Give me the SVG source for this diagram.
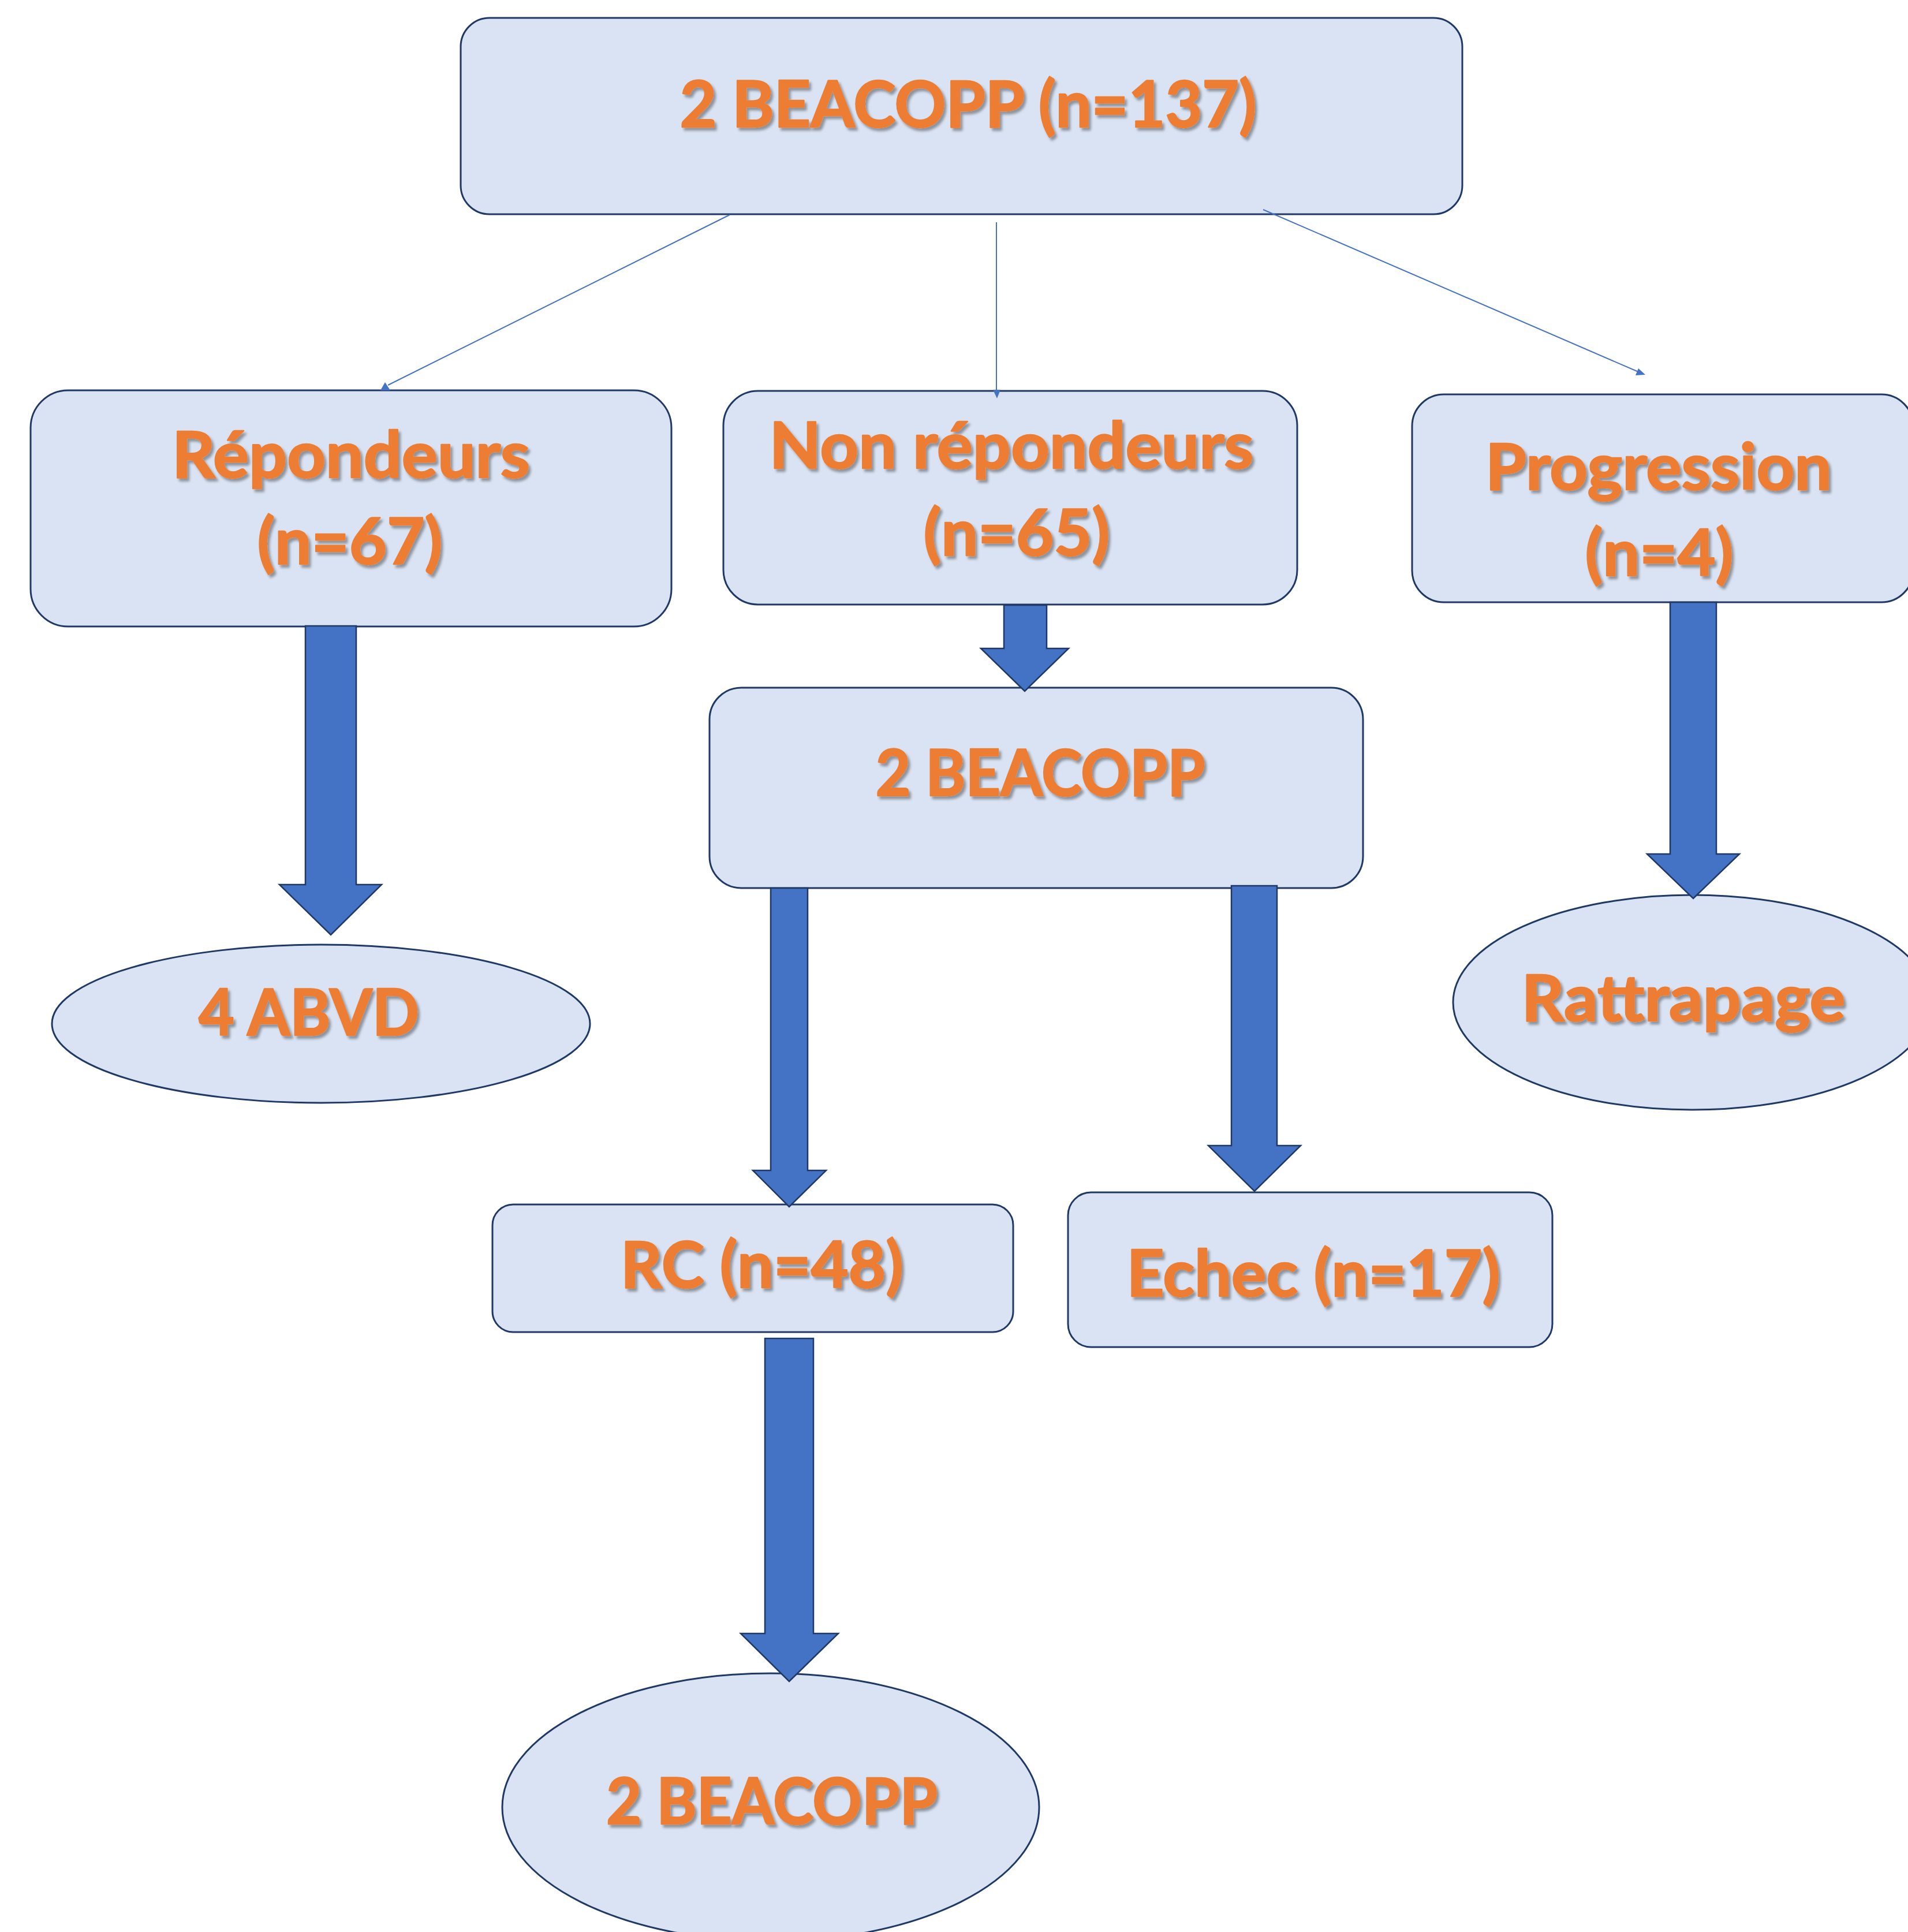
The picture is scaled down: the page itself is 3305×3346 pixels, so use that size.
<svg xmlns="http://www.w3.org/2000/svg" width="3305" height="3346" viewBox="0 0 3305 3346">
<defs>
<filter id="sh" x="-10%" y="-20%" width="120%" height="140%">
<feDropShadow dx="4" dy="5" stdDeviation="2" flood-color="#000" flood-opacity="0.35"/>
</filter>
</defs>
<style>
.box{fill:#DAE3F3;stroke:#1F3864;stroke-width:3}
.t{font-family:Lato,"Open Sans","Liberation Sans",sans-serif;font-weight:bold;font-size:112px;fill:#ED7D31;stroke:#ED7D31;stroke-width:2.5;stroke-linejoin:round;text-anchor:middle;filter:url(#sh)}
.blk{fill:#4472C4;stroke:#1F3864;stroke-width:2.5;stroke-linejoin:miter}
.thin{stroke:#4472C4;stroke-width:2;fill:none}
.ah{fill:#4472C4}
</style>
<rect width="3305" height="3346" fill="#fff"/>
<g id="n-top">
<rect class="box" x="798" y="31" width="1735" height="340" rx="50"/>
<text class="t" x="1677" y="220" textLength="999" lengthAdjust="spacingAndGlyphs">2 BEACOPP (n=137)</text>
</g>
<g id="n-repondeurs">
<rect class="box" x="53" y="676" width="1110" height="409" rx="65"/>
<text class="t" x="608" y="827" textLength="620" lengthAdjust="spacingAndGlyphs">Répondeurs</text>
<text class="t" x="606" y="977" textLength="321" lengthAdjust="spacingAndGlyphs">(n=67)</text>
</g>
<g id="n-nonrep">
<rect class="box" x="1253" y="677" width="994" height="370" rx="60"/>
<text class="t" x="1752" y="811" textLength="839" lengthAdjust="spacingAndGlyphs">Non répondeurs</text>
<text class="t" x="1761" y="962" textLength="323" lengthAdjust="spacingAndGlyphs">(n=65)</text>
</g>
<g id="n-progression">
<rect class="box" x="2446" y="683" width="868" height="360" rx="55"/>
<text class="t" x="2873" y="848" textLength="600" lengthAdjust="spacingAndGlyphs">Progression</text>
<text class="t" x="2874" y="997" textLength="257" lengthAdjust="spacingAndGlyphs">(n=4)</text>
</g>
<g id="n-beacopp2">
<rect class="box" x="1229" y="1191" width="1132" height="347" rx="55"/>
<text class="t" x="1802" y="1378" textLength="571" lengthAdjust="spacingAndGlyphs">2 BEACOPP</text>
</g>
<g id="n-abvd">
<ellipse class="box" cx="556" cy="1773" rx="466" ry="137"/>
<text class="t" x="535" y="1793" textLength="382" lengthAdjust="spacingAndGlyphs">4 ABVD</text>
</g>
<g id="n-rattrapage">
<ellipse class="box" cx="2931" cy="1736" rx="414" ry="186"/>
<text class="t" x="2916" y="1768" textLength="561" lengthAdjust="spacingAndGlyphs">Rattrapage</text>
</g>
<g id="n-rc">
<rect class="box" x="853" y="2086" width="902" height="221" rx="36"/>
<text class="t" x="1320" y="2230" textLength="490" lengthAdjust="spacingAndGlyphs">RC (n=48)</text>
</g>
<g id="n-echec">
<rect class="box" x="1850" y="2065" width="839" height="268" rx="40"/>
<text class="t" x="2275" y="2245" textLength="647" lengthAdjust="spacingAndGlyphs">Echec (n=17)</text>
</g>
<g id="n-beacopp3">
<ellipse class="box" cx="1335" cy="3130" rx="465" ry="232"/>
<text class="t" x="1337" y="3159" textLength="574" lengthAdjust="spacingAndGlyphs">2 BEACOPP</text>
</g>
<g id="connectors">
<line class="thin" x1="1264" y1="372" x2="672" y2="667"/>
<polygon class="ah" points="659,676 676,676 667,662"/>
<line class="thin" x1="1726" y1="385" x2="1726" y2="678"/>
<polygon class="ah" points="1720,675 1733,675 1727,690"/>
<line class="thin" x1="2188" y1="363" x2="2838" y2="644"/>
<polygon class="ah" points="2850,649 2833,650 2838,638"/>
<polygon class="blk" points="529,1084 617,1084 617,1532 661,1532 573,1619 484,1532 529,1532"/>
<polygon class="blk" points="1739,1048 1813,1048 1813,1123 1851,1123 1775,1197 1699,1123 1739,1123"/>
<polygon class="blk" points="2893,1043 2973,1043 2973,1479 3013,1479 2933,1556 2853,1479 2893,1479"/>
<polygon class="blk" points="1335,1538 1399,1538 1399,2027 1431,2027 1367,2090 1304,2027 1335,2027"/>
<polygon class="blk" points="2133,1534 2212,1534 2212,1984 2253,1984 2173,2063 2093,1984 2133,1984"/>
<polygon class="blk" points="1325,2318 1409,2318 1409,2829 1452,2829 1367,2912 1283,2829 1325,2829"/>
</g>
</svg>
